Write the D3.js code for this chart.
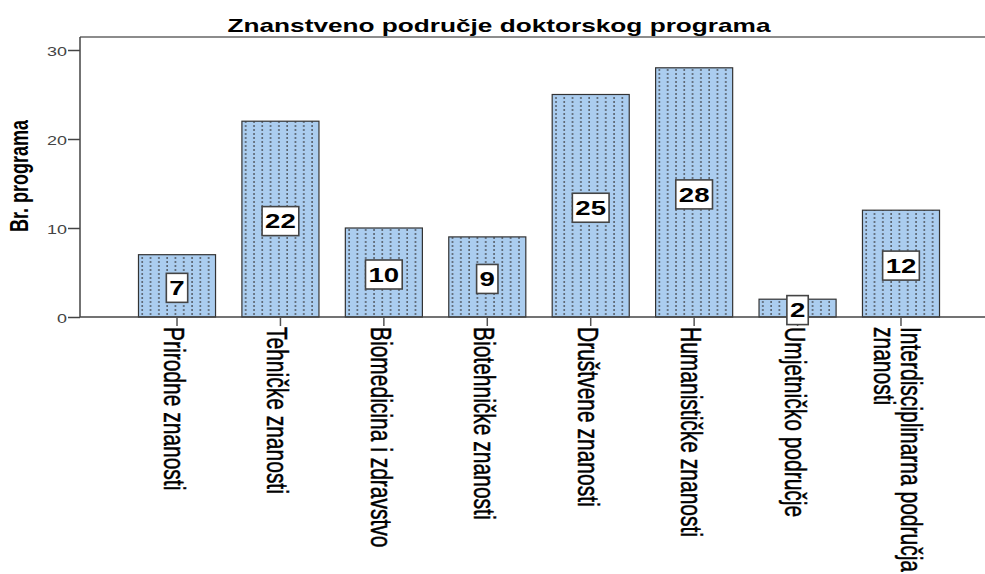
<!DOCTYPE html>
<html>
  <head>
    <meta charset="utf-8">
    <script src="https://cdn.jsdelivr.net/npm/d3@7"></script>
    <style type="text/css">
  body {
    margin: 0;
    background: #fff;
  }
  svg text {
    font-family: "Liberation Sans", Arial, sans-serif;
  }
    </style>
  </head>

  <body>
  <div id="container"></div>

  <script type="text/javascript">

  // data
  var categories = ["Prirodne znanosti", "Tehničke znanosti", "Biomedicina i zdravstvo",
    "Biotehničke znanosti", "Društvene znanosti", "Humanističke znanosti",
    "Umjetničko područje", "Interdisciplinarna područja znanosti"];
  var counts = [7, 22, 10, 9, 25, 28, 2, 12];
  var yTicks = [0, 10, 20, 30];
  var title = "Znanstveno područje doktorskog programa";
  var yLabel = "Br. programa";

  // the original picture is stretched sideways, so text gets the same stretch
  var SX = 1.38;

  var width = 985,
    height = 574,
    plotLeft = 80,
    plotRight = 985,
    plotTop = 37;

  var svg = d3.select("#container")
    .append("svg")
    .attr("width", width)
    .attr("height", height);

  var x = d3.scaleBand()
    .domain(categories)
    .range([125.3, 952.7])
    .paddingInner(0.255)
    .paddingOuter(0.1275);

  var y = d3.scaleLinear()
    .domain([0, 30])
    .range([317, 50]);

  var data = categories.map(function(c, i) { return {cat: c, value: counts[i]}; });

  // dotted fill, one pattern per bar so the dots line up with each bar edge
  var defs = svg.append("defs");
  var pats = defs.selectAll("pattern")
    .data(data)
    .join("pattern")
      .attr("id", function(d, i) { return "dots" + i; })
      .attr("patternUnits", "userSpaceOnUse")
      .attr("x", function(d) { return x(d.cat); })
      .attr("y", 0)
      .attr("width", 8.3)
      .attr("height", 4);
  pats.append("rect")
    .attr("width", 8.3).attr("height", 4)
    .attr("fill", "#abcdef");
  pats.append("rect")
    .attr("x", 3).attr("y", 1)
    .attr("width", 1.6).attr("height", 2)
    .attr("fill", "#5a6470");

  // bars
  svg.append("g")
    .selectAll("rect")
    .data(data)
    .join("rect")
      .attr("x", function(d) { return x(d.cat); })
      .attr("y", function(d) { return y(d.value); })
      .attr("width", x.bandwidth())
      .attr("height", function(d) { return y(0) - y(d.value); })
      .attr("fill", function(d, i) { return "url(#dots" + i + ")"; })
      .attr("stroke", "#333")
      .attr("stroke-width", 1.2);

  // frame: top line
  svg.append("line")
    .attr("x1", plotLeft).attr("x2", plotRight)
    .attr("y1", plotTop).attr("y2", plotTop)
    .attr("stroke", "#666").attr("stroke-width", 1.5);

  // y axis
  var yAxis = svg.append("g")
    .attr("transform", "translate(" + plotLeft + ",0)")
    .call(d3.axisLeft(y).tickValues(yTicks).tickSize(12).tickPadding(0).tickSizeOuter(0));
  yAxis.select(".domain").remove();
  yAxis.selectAll(".tick line").attr("stroke", "#444").attr("stroke-width", 1.5);
  yAxis.selectAll(".tick text")
    .attr("x", null)
    .attr("dy", "0.36em")
    .attr("transform", "translate(-13,1) scale(" + SX + ",1)")
    .attr("fill", "#444")
    .style("font-size", "13px");

  svg.append("line")
    .attr("x1", plotLeft).attr("x2", plotLeft)
    .attr("y1", plotTop).attr("y2", y(0))
    .attr("stroke", "#444").attr("stroke-width", 1.5);
  svg.append("line")
    .attr("x1", plotLeft).attr("x2", plotRight)
    .attr("y1", y(0)).attr("y2", y(0))
    .attr("stroke", "#444").attr("stroke-width", 1.5);

  // x ticks
  svg.append("g")
    .selectAll("line")
    .data(categories)
    .join("line")
      .attr("x1", function(d) { return x(d) + x.bandwidth() / 2; })
      .attr("x2", function(d) { return x(d) + x.bandwidth() / 2; })
      .attr("y1", y(0))
      .attr("y2", y(0) + 9)
      .attr("stroke", "#555")
      .attr("stroke-width", 1.5);

  // x labels, turned to read downward, long ones broken in two
  var xLabels = svg.append("g")
    .selectAll("text")
    .data(categories)
    .join("text")
      .attr("transform", function(d) {
        return "translate(" + (x(d) + x.bandwidth() / 2) + ",327) scale(" + SX + ",1) rotate(90)";
      })
      .attr("fill", "#000")
      .attr("stroke", "#000")
      .attr("stroke-width", 0.35)
      .style("font-size", "21px");

  xLabels.each(function(d) {
    var t = d3.select(this);
    var words = d.split(" "), line = [], lines = [];
    var probe = t.append("tspan");
    words.forEach(function(w) {
      probe.text(line.concat(w).join(" "));
      if (probe.node().getComputedTextLength() > 260 && line.length) {
        lines.push(line.join(" "));
        line = [w];
      } else {
        line.push(w);
      }
    });
    lines.push(line.join(" "));
    probe.remove();
    var lh = 0.93;
    lines.forEach(function(l, i) {
      t.append("tspan")
        .attr("x", 0)
        .attr("dy", (i == 0 ? 0.45 - (lines.length - 1) * lh / 2 : lh) + "em")
        .text(l);
    });
  });

  // value boxes in the middle of each bar
  var labels = svg.append("g")
    .selectAll("g")
    .data(data)
    .join("g")
      .attr("transform", function(d) {
        return "translate(" + (x(d.cat) + x.bandwidth() / 2) + "," + (y(d.value / 2) + 2) + ")";
      });

  labels.append("rect")
    .attr("fill", "#fff")
    .attr("stroke", "#444")
    .attr("stroke-width", 1.6);

  labels.append("text")
    .attr("text-anchor", "middle")
    .attr("dy", "0.36em")
    .attr("transform", "scale(" + SX + ",1)")
    .style("font-size", "20px")
    .style("font-weight", "bold")
    .text(function(d) { return d.value; });

  labels.each(function() {
    var g = d3.select(this);
    var w = g.select("text").node().getComputedTextLength() * SX + 6;
    g.select("rect")
      .attr("x", -w / 2).attr("y", -14.5)
      .attr("width", w).attr("height", 29);
  });

  // title
  svg.append("text")
    .attr("text-anchor", "middle")
    .attr("transform", "translate(499,32) scale(" + SX + ",1)")
    .style("font-size", "19px")
    .style("font-weight", "bold")
    .text(title);

  // y axis title
  svg.append("text")
    .attr("text-anchor", "middle")
    .attr("transform", "translate(28,176) scale(" + SX + ",1) rotate(-90)")
    .style("font-size", "18px")
    .style("font-weight", "bold")
    .text(yLabel);

  </script>
  </body>
</html>
